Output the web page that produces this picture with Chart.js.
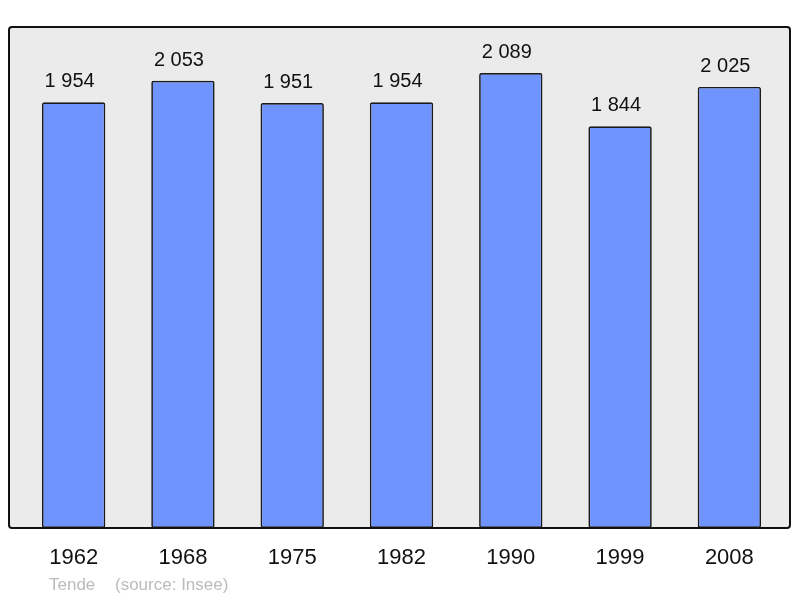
<!DOCTYPE html>
<html>
<head>
<meta charset="utf-8">
<script src="https://cdn.jsdelivr.net/npm/chart.js@4/dist/chart.umd.min.js"></script>
<style>
  html, body { margin:0; padding:0; background:#fff; }
  #wrap { width:800px; height:598px; }
</style>
</head>
<body>
<div id="wrap"><canvas id="pop" width="800" height="598"></canvas></div>
<script>
// data
const years = ['1962', '1968', '1975', '1982', '1990', '1999', '2008'];
const population = [1954, 2053, 1951, 1954, 2089, 1844, 2025];
const yMax = 2300;
const footerText = ['Tende', '(source: Insee)'];

const FONT = '"Liberation Sans", Arial, sans-serif';

function fmtNum(n){ return String(n).replace(/\B(?=(\d{3})+(?!\d))/g, ' '); }

// grey panel behind the plot, black frame on top
const panelPlugin = {
  id: 'panel',
  beforeDraw(chart){
    const ctx = chart.ctx;
    ctx.save();
    ctx.fillStyle = '#ebebeb';
    ctx.beginPath();
    ctx.roundRect(9, 27, 781, 501, 3);
    ctx.fill();
    ctx.restore();
  },
  afterDatasetsDraw(chart){
    const ctx = chart.ctx;
    ctx.save();
    ctx.strokeStyle = '#111';
    ctx.lineWidth = 2;
    ctx.beginPath();
    ctx.roundRect(9, 27, 781, 501, 3);
    ctx.stroke();
    ctx.restore();
  }
};

// numbers above bars + source line
const labelsPlugin = {
  id: 'valueLabels',
  afterDraw(chart){
    const ctx = chart.ctx;
    const meta = chart.getDatasetMeta(0);
    ctx.save();
    ctx.fillStyle = '#111';
    ctx.font = '20px ' + FONT;
    ctx.textAlign = 'center';
    ctx.textBaseline = 'alphabetic';
    meta.data.forEach((bar, i) => {
      ctx.fillText(fmtNum(population[i]), bar.x - 4, bar.y - 15);
    });
    ctx.fillStyle = '#bbbbbb';
    ctx.font = '17px ' + FONT;
    ctx.textAlign = 'left';
    ctx.fillText(footerText[0], 49, 590);
    ctx.fillText(footerText[1], 115, 590);
    ctx.restore();
  }
};

new Chart(document.getElementById('pop'), {
  type: 'bar',
  data: {
    labels: years,
    datasets: [{
      data: population,
      backgroundColor: '#7094ff',
      borderColor: '#1a1a1a',
      borderWidth: 1.7,
      borderRadius: 2,
      borderSkipped: false,
      barPercentage: 0.58,
      categoryPercentage: 1
    }]
  },
  options: {
    responsive: false,
    animation: false,
    events: [],
    layout: { padding: { left: 19, right: 16, top: 27, bottom: 20 } },
    plugins: { legend: { display: false }, tooltip: { enabled: false } },
    scales: {
      x: {
        grid: { display: false, drawTicks: false },
        border: { display: false },
        ticks: { color: '#111', font: { family: FONT, size: 22 }, padding: 17, maxRotation: 0 },
        afterFit(scale){ scale.height = 50; }
      },
      y: {
        display: false,
        min: 0,
        max: yMax
      }
    }
  },
  plugins: [panelPlugin, labelsPlugin]
});
</script>
</body>
</html>
